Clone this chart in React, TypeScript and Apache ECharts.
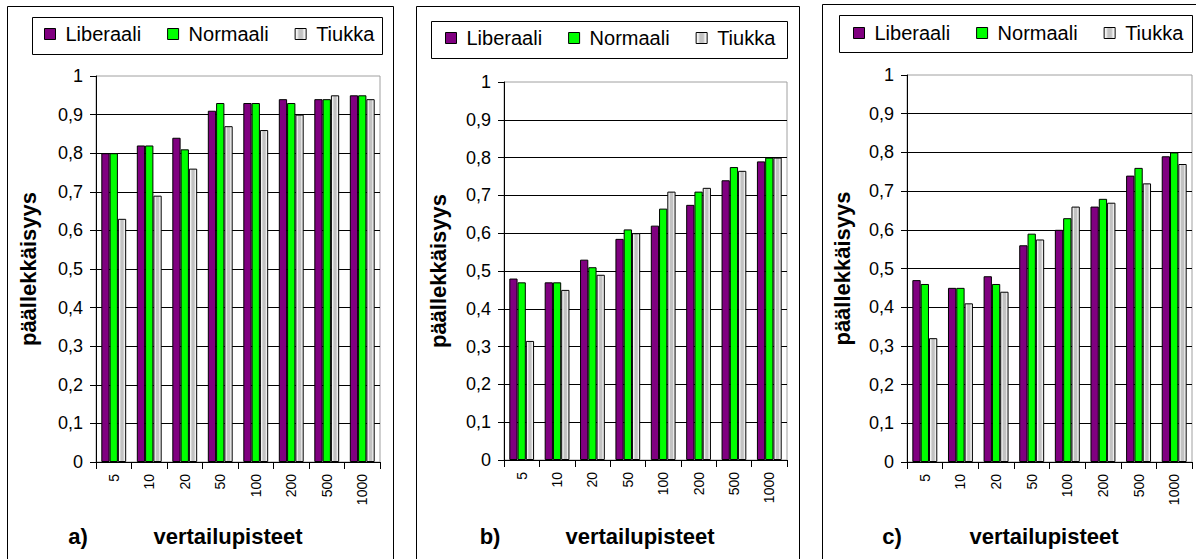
import React, { useEffect, useRef } from "react";
import * as echarts from "echarts";

// Reference-point counts on the x axis
const categories = ["5", "10", "20", "50", "100", "200", "500", "1000"];
const seriesNames = ["Liberaali", "Normaali", "Tiukka"];

// a)
const aLiberaali = [0.8, 0.82, 0.84, 0.91, 0.93, 0.94, 0.94, 0.95];
const aNormaali = [0.8, 0.82, 0.81, 0.93, 0.93, 0.93, 0.94, 0.95];
const aTiukka = [0.63, 0.69, 0.76, 0.87, 0.86, 0.9, 0.95, 0.94];
// b)
const bLiberaali = [0.48, 0.47, 0.53, 0.585, 0.62, 0.675, 0.74, 0.79];
const bNormaali = [0.47, 0.47, 0.51, 0.61, 0.665, 0.71, 0.775, 0.8];
const bTiukka = [0.315, 0.45, 0.49, 0.6, 0.71, 0.72, 0.765, 0.8];
// c)
const cLiberaali = [0.47, 0.45, 0.48, 0.56, 0.6, 0.66, 0.74, 0.79];
const cNormaali = [0.46, 0.45, 0.46, 0.59, 0.63, 0.68, 0.76, 0.8];
const cTiukka = [0.32, 0.41, 0.44, 0.575, 0.66, 0.67, 0.72, 0.77];

const panelLetters = ["a)", "b)", "c)"];
const xTitle = "vertailupisteet";
const yTitle = "päällekkäisyys";

const FONT = "'Liberation Sans', Arial, sans-serif";

const panels = [
  {
    data: [aLiberaali, aNormaali, aTiukka],
    grid: { left: 96, top: 76, width: 284, height: 386 },
    frame: { x: 7.5, y: 6.5, w: 386 },
    legendBox: { x: 32.5, y: 17.5, w: 350, h: 37 },
    legendPos: { left: 44, top: 24 },
    yTitleX: 28,
    letterX: 78,
    xTitleX: 228,
  },
  {
    data: [bLiberaali, bNormaali, bTiukka],
    grid: { left: 504, top: 82, width: 283, height: 378 },
    frame: { x: 416.5, y: 6.5, w: 383 },
    legendBox: { x: 431.5, y: 21.5, w: 356, h: 37 },
    legendPos: { left: 445, top: 28 },
    yTitleX: 438,
    letterX: 490,
    xTitleX: 640,
  },
  {
    data: [cLiberaali, cNormaali, cTiukka],
    grid: { left: 907, top: 75, width: 285, height: 387 },
    frame: { x: 822.5, y: 4.5, w: 400 },
    legendBox: { x: 839.5, y: 15.5, w: 353, h: 37 },
    legendPos: { left: 853, top: 23 },
    yTitleX: 842,
    letterX: 892,
    xTitleX: 1044,
  },
];

// Light dotted fill of the "Tiukka" bars: white edges with a grey middle stripe
const tiukkaFill = new echarts.graphic.LinearGradient(1, 0, 0, 0, [
  { offset: 0, color: "#ffffff" },
  { offset: 0.2, color: "#ececec" },
  { offset: 0.35, color: "#c2c2c2" },
  { offset: 0.65, color: "#c2c2c2" },
  { offset: 0.8, color: "#ececec" },
  { offset: 1, color: "#ffffff" },
]);
const seriesFills = ["#800080", "#00ff00", tiukkaFill];

const fmtTick = (v: number) =>
  v === 0 ? "0" : v === 1 ? "1" : v.toFixed(1).replace(".", ",");

export default function App() {
  const ref = useRef<HTMLDivElement>(null);

  useEffect(() => {
    if (!ref.current) return;
    const chart = echarts.init(ref.current, undefined, { renderer: "svg" });

    const grid = panels.map((p) => ({
      ...p.grid,
      show: true,
      borderColor: "#a0a0a0",
      borderWidth: 1,
      backgroundColor: "#ffffff",
      containLabel: false,
    }));

    const xAxis = panels.map((_, i) => ({
      type: "category",
      gridIndex: i,
      data: categories,
      axisLine: { lineStyle: { color: "#000", width: 1 } },
      axisTick: { show: true, length: 7, lineStyle: { color: "#000" } },
      axisLabel: {
        rotate: 90,
        margin: 12,
        color: "#000",
        fontSize: 14,
        fontFamily: FONT,
      },
    }));

    const yAxis = panels.map((_, i) => ({
      type: "value",
      gridIndex: i,
      min: 0,
      max: 1,
      interval: 0.1,
      axisLine: { show: true, lineStyle: { color: "#000", width: 1 } },
      axisTick: { show: true, length: 6, lineStyle: { color: "#000" } },
      axisLabel: {
        margin: 13,
        color: "#000",
        fontSize: 18,
        fontFamily: FONT,
        formatter: fmtTick,
      },
      splitLine: {
        show: true,
        showMaxLine: false,
        lineStyle: { color: "#000", width: 1 },
      },
    }));

    const series: any[] = [];
    panels.forEach((p, i) => {
      p.data.forEach((values, s) => {
        series.push({
          type: "bar",
          name: seriesNames[s],
          xAxisIndex: i,
          yAxisIndex: i,
          data: values,
          barGap: "0%",
          barCategoryGap: "30%",
          itemStyle: {
            color: seriesFills[s],
            borderColor: "#000",
            borderWidth: 1,
          },
        });
      });
    });

    const legend = panels.map((p) => ({
      data: seriesNames,
      left: p.legendPos.left,
      top: p.legendPos.top,
      orient: "horizontal",
      icon: "rect",
      itemWidth: 11,
      itemHeight: 11,
      itemGap: 26,
      selectedMode: false,
      padding: 0,
      itemStyle: { borderColor: "#000", borderWidth: 1 },
      textStyle: {
        fontSize: 20,
        fontFamily: FONT,
        color: "#000",
        lineHeight: 20,
        padding: [0, 0, 0, 5],
      },
    }));

    const textStyle = (text: string) => ({
      text,
      font: `bold 22px ${FONT}`,
      fill: "#000",
      align: "center",
      verticalAlign: "middle",
      textAlign: "center",
      textVerticalAlign: "middle",
    });

    const graphic: any[] = [];
    panels.forEach((p, i) => {
      const cy = p.grid.top + p.grid.height / 2;
      graphic.push({
        type: "rect",
        silent: true,
        shape: { x: p.frame.x, y: p.frame.y, width: p.frame.w, height: 620 },
        style: { fill: "none", stroke: "#000", lineWidth: 1 },
        z: 10,
      });
      graphic.push({
        type: "rect",
        silent: true,
        shape: {
          x: p.legendBox.x,
          y: p.legendBox.y,
          width: p.legendBox.w,
          height: p.legendBox.h,
        },
        style: { fill: "none", stroke: "#000", lineWidth: 1 },
        z: 10,
      });
      graphic.push({
        type: "text",
        silent: true,
        x: p.yTitleX,
        y: cy,
        rotation: Math.PI / 2,
        style: textStyle(yTitle),
        z: 10,
      });
      graphic.push({
        type: "text",
        silent: true,
        x: p.xTitleX,
        y: 536,
        style: textStyle(xTitle),
        z: 10,
      });
      graphic.push({
        type: "text",
        silent: true,
        x: p.letterX,
        y: 536,
        style: textStyle(panelLetters[i]),
        z: 10,
      });
    });

    chart.setOption({
      animation: false,
      backgroundColor: "#ffffff",
      grid,
      xAxis,
      yAxis,
      legend,
      series,
      graphic,
    });

    return () => chart.dispose();
  }, []);

  return (
    <div
      ref={ref}
      style={{ position: "fixed", left: 0, top: 0, width: 1196, height: 559 }}
    />
  );
}
